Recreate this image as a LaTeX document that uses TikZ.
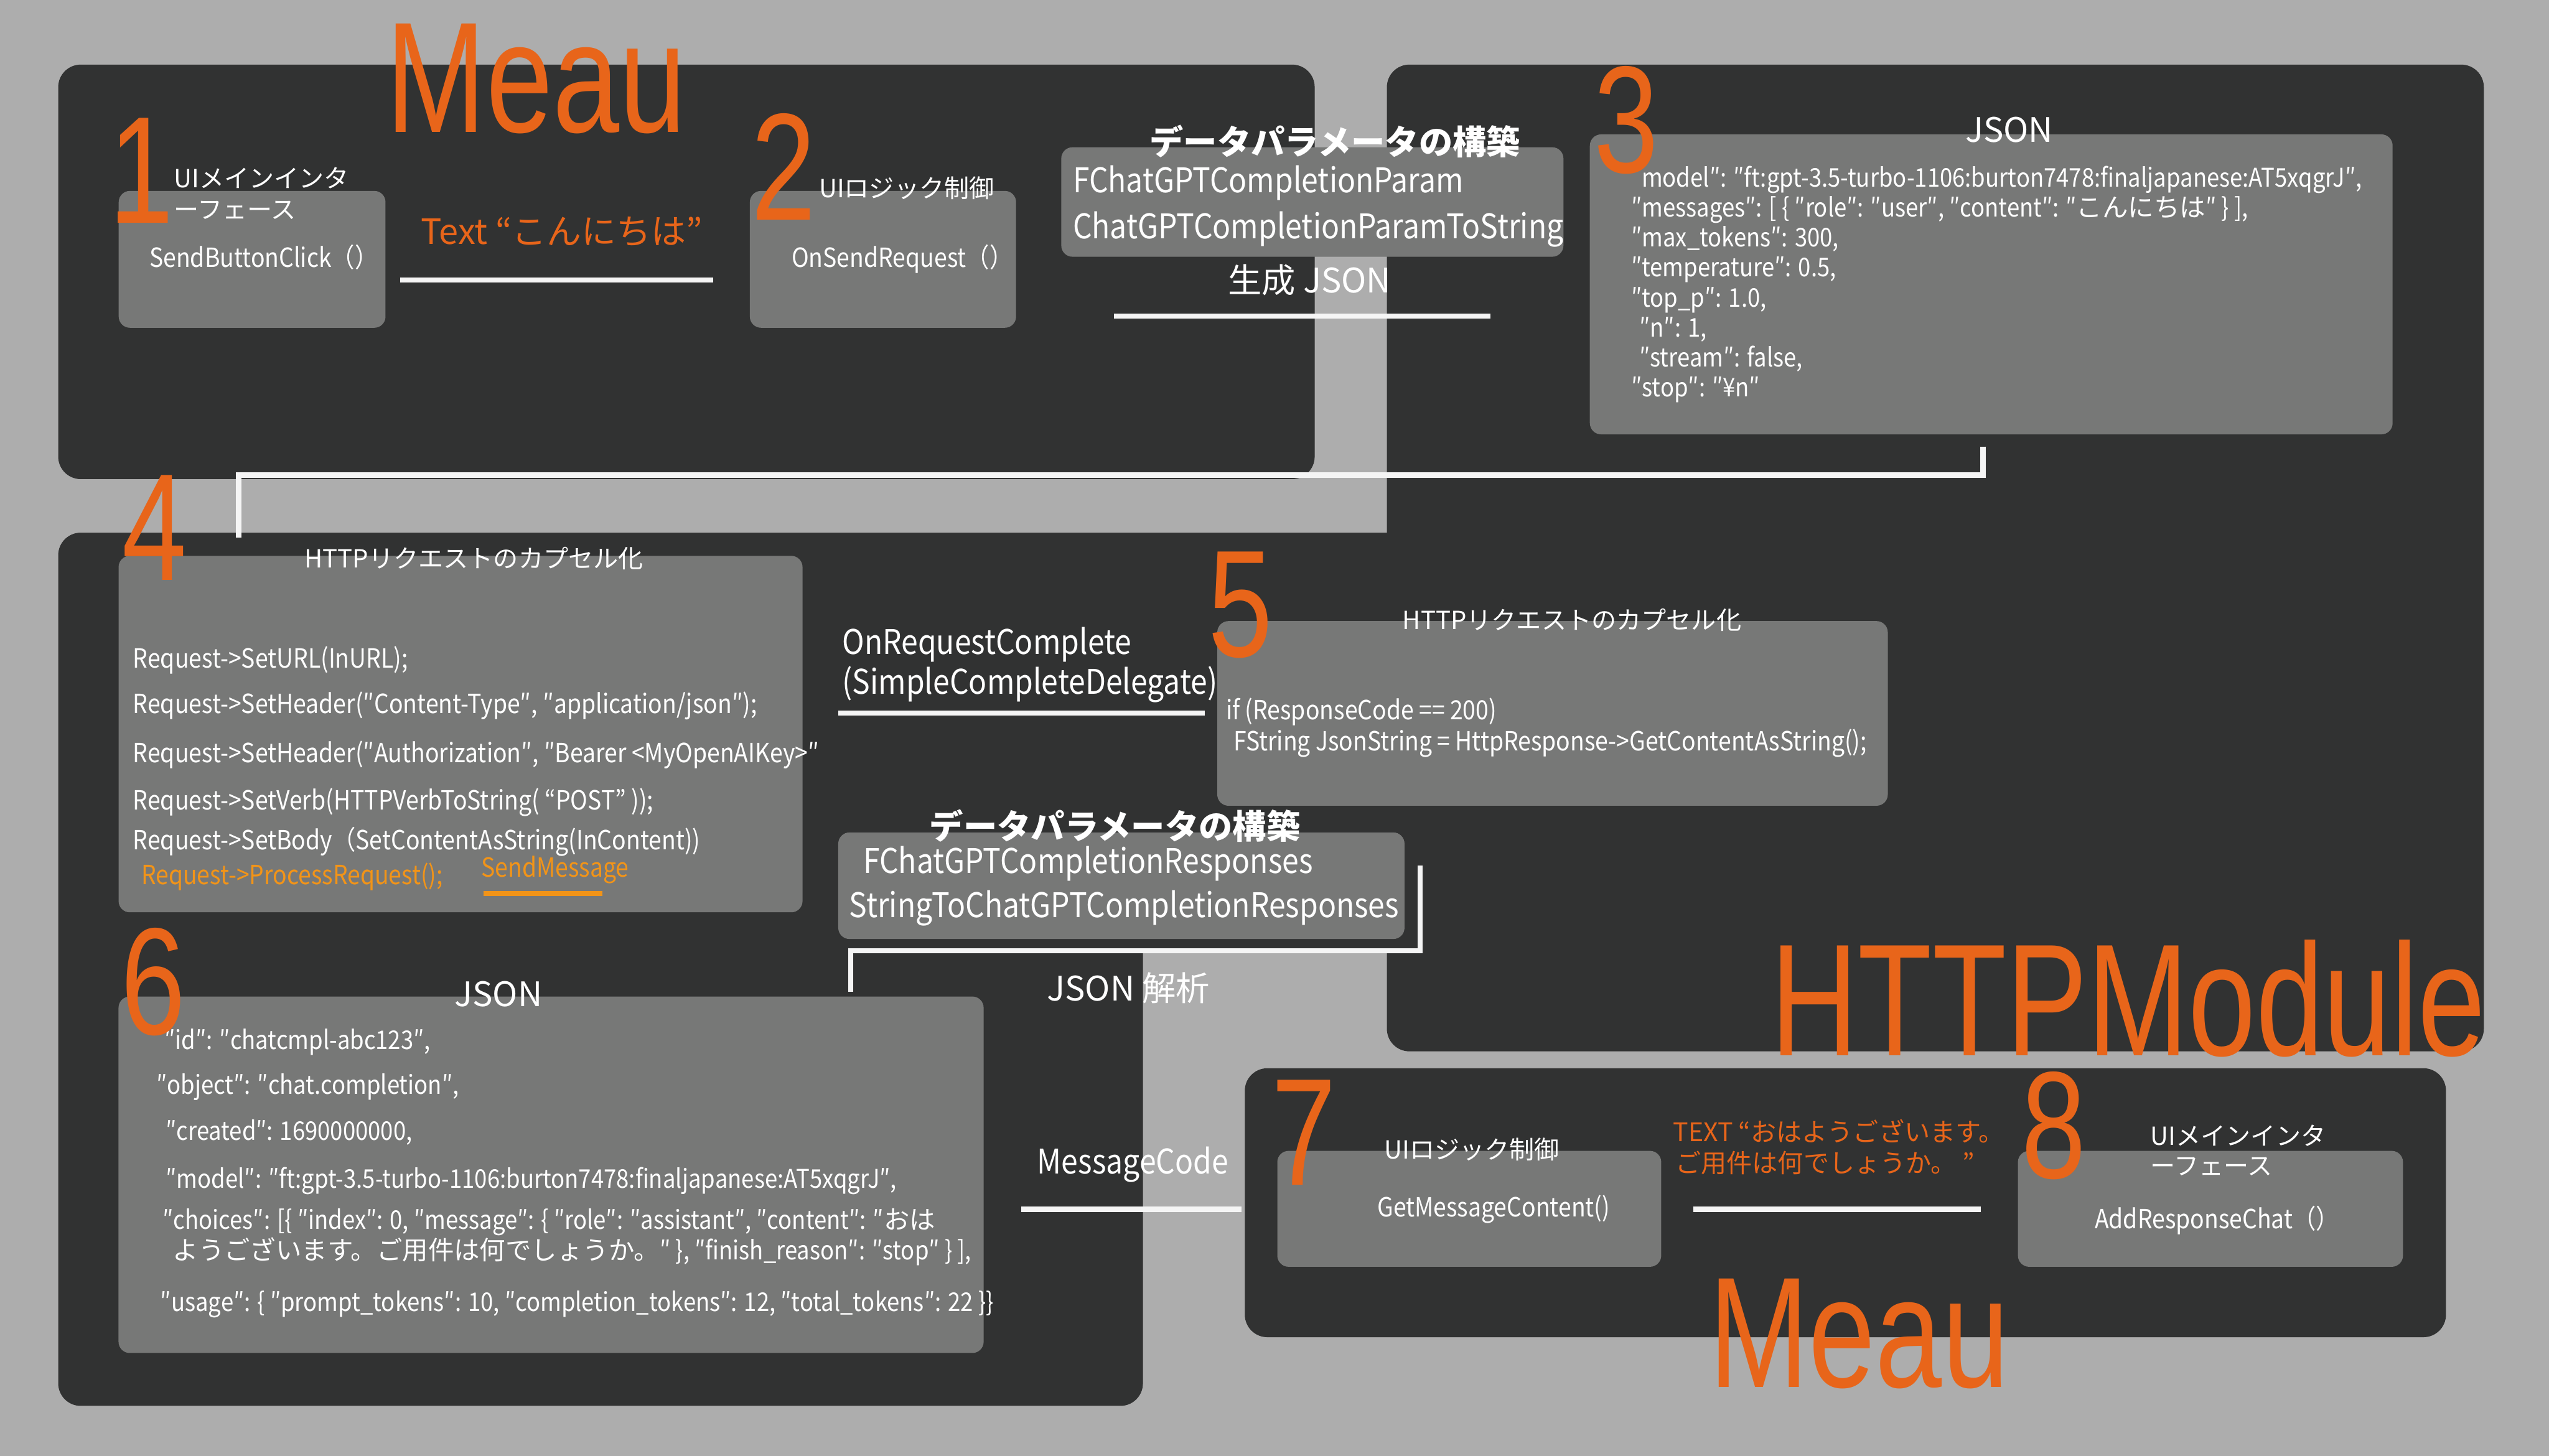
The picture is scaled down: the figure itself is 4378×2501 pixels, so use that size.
\documentclass[tikz,border=0pt]{standalone}
\usepackage{fontspec}
\setmainfont{Noto Sans CJK JP}[FakeStretch=0.88]
\newfontfamily\jpfont{Noto Sans CJK JP}
\newfontfamily\numfont{Liberation Sans}[FakeStretch=0.76]
\newcommand{\jp}[1]{{\jpfont #1}}
\usetikzlibrary{positioning}
\definecolor{bggray}{HTML}{ADADAD}
\definecolor{paneldark}{HTML}{313232}
\definecolor{boxgray}{HTML}{777877}
\definecolor{meauorange}{HTML}{E8651A}
\definecolor{amber}{HTML}{F29418}
\definecolor{linewhite}{HTML}{F5F5F5}

\begin{document}
\begin{tikzpicture}[x=0.01cm, y=-0.01cm,
    panel/.style={fill=paneldark, rounded corners=11pt},
    box/.style={rectangle, rounded corners=5.5pt, fill=boxgray, inner sep=0pt},
    link/.style={draw=linewhite, line width=2.6pt},
    num/.style={text=meauorange, font=\numfont\fontsize{74.5pt}{75pt}\selectfont, anchor=base, inner sep=0pt},
    mod/.style={text=meauorange, font=\numfont\fontsize{77pt}{78pt}\selectfont, anchor=base, inner sep=0pt},
    lbl/.style={text=white, font=\jpfont\fontsize{12.2pt}{14pt}\selectfont, anchor=base west, inner sep=0pt},
    say/.style={text=meauorange, font=\jpfont\fontsize{12.5pt}{14pt}\selectfont, anchor=base west, inner sep=0pt},
    code/.style={text=white, font=\fontsize{12.9pt}{14pt}\selectfont, anchor=base west, inner sep=0pt},
    json/.style={text=white, font=\fontsize{12.6pt}{14pt}\selectfont, anchor=base west, inner sep=0pt},
    head/.style={text=white, font=\fontsize{16.6pt}{18pt}\selectfont, anchor=base west, inner sep=0pt},
    jhead/.style={text=white, font=\jpfont\fontsize{16.5pt}{18pt}\selectfont, anchor=base, inner sep=0pt},
    ttl/.style={text=white, font=\jpfont\bfseries\fontsize{16.5pt}{18pt}\selectfont, anchor=base, inner sep=0pt}
  ]
    \useasboundingbox (0,0) rectangle (4378,2501);
    \fill[bggray] (0,0) rectangle (4378,2501);

    % panels
    \fill[panel] (100,111) rectangle (2258,823);
    \fill[panel] (2382,111) rectangle (4266,1806);
    \fill[panel] (100,915) rectangle (1963,2415);
    \fill[paneldark] (1900,915) rectangle (2420,1636);
    \fill[panel] (2138,1835) rectangle (4201,2297);

    % boxes
    \node[box, minimum width=4.58cm, minimum height=2.35cm]  (box1) at (433,445.5) {};
    \node[box, minimum width=4.57cm, minimum height=2.35cm]  (box2) at (1516.5,445.5) {};
    \node[box, minimum width=8.62cm, minimum height=1.88cm]  (param) at (2254,347) {};
    \node[box, minimum width=13.78cm, minimum height=5.15cm] (box3) at (3420,488.5) {};
    \node[box, minimum width=11.74cm, minimum height=6.12cm] (box4) at (791,1261) {};
    \node[box, minimum width=11.51cm, minimum height=3.17cm] (box5) at (2666.5,1225.5) {};
    \node[box, minimum width=9.72cm, minimum height=1.83cm]  (resp) at (1926,1521.5) {};
    \node[box, minimum width=14.85cm, minimum height=6.12cm] (box6) at (946.5,2018) {};
    \node[box, minimum width=6.59cm, minimum height=1.99cm]  (box7) at (2523.5,2076.5) {};
    \node[box, minimum width=6.61cm, minimum height=1.99cm]  (box8) at (3796.5,2076.5) {};

    % connector ends
    \coordinate (l1a) at (687,481);   \coordinate (l1b) at (1225,481);
    \coordinate (l2a) at (1913,543);  \coordinate (l2b) at (2560,543);
    \coordinate (l3a) at (3406,767);  \coordinate (l3b) at (410,923);
    \coordinate (l4a) at (1440,1225); \coordinate (l4b) at (2069,1225);
    \coordinate (l5a) at (2439,1487); \coordinate (l5b) at (1461,1704);
    \coordinate (l6a) at (1754,2077); \coordinate (l6b) at (2132,2077);
    \coordinate (l7a) at (2908,2077); \coordinate (l7b) at (3402,2077);

    \draw[link] (l1a) -- (l1b);
    \draw[link] (l2a) -- (l2b);
    \draw[link] (l3a) -- (3406,816) -- (410,816) -- (l3b);
    \draw[link] (l4a) -- (l4b);
    \draw[link] (l5a) -- (2439,1633) -- (1461,1633) -- (l5b);
    \draw[link] (l6a) -- (l6b);
    \draw[link] (l7a) -- (l7b);

    % 1, 2
    \node[lbl] (t1a) at (298,322) {UIメインインタ};
    \node[lbl] (t1b) at (298,376) {ーフェース};
    \node[code] (f1) at (256,459) {SendButtonClick（）};
    \node[say, font=\jpfont\fontsize{17pt}{19pt}\selectfont] (say1) at (722,420) {Text “こんにちは”};
    \node[lbl] (t2) at (1406,339) {UIロジック制御};
    \node[code] (f2) at (1359,459) {OnSendRequest（）};

    % param
    \node[ttl] (build1) at (2293,266) {データパラメータの構築};
    \node[head] (p1) at (1842,331) {FChatGPTCompletionParam};
    \node[head] (p2) at (1842,410) {ChatGPTCompletionParamToString};
    \node[jhead] (gen) at (2249,503) {生成 JSON};

    % 3
    \node[jhead] (js3) at (3451,244) {JSON};
    \node[json] (j1) at (2819,321)   {model″: ″ft:gpt-3.5-turbo-1106:burton7478:finaljapanese:AT5xqgrJ″,};
    \node[json] (j2) at (2801,372.5) {″messages″: [ \{ ″role″: ″user″, ″content″: ″\jp{こんにちは}″ \} ],};
    \node[json] (j3) at (2801,424)   {″max\_tokens″: 300,};
    \node[json] (j4) at (2801,475.5) {″temperature″: 0.5,};
    \node[json] (j5) at (2801,527)   {″top\_p″: 1.0,};
    \node[json] (j6) at (2815,578.5) {″n″: 1,};
    \node[json] (j7) at (2815,630)   {″stream″: false,};
    \node[json] (j8) at (2801,681.5) {″stop″: ″¥n″};

    % 4
    \node[lbl, anchor=base] (cap4) at (814,975) {HTTPリクエストのカプセル化};
    \node[code] (r1) at (228,1147) {Request->SetURL(InURL);};
    \node[code] (r2) at (228,1225) {Request->SetHeader(″Content-Type″, ″application/json″);};
    \node[code] (r3) at (228,1310) {Request->SetHeader(″Authorization″, ″Bearer <MyOpenAIKey>″};
    \node[code] (r4) at (228,1391) {Request->SetVerb(HTTPVerbToString( “POST” ));};
    \node[code] (r5) at (228,1460) {Request->SetBody（SetContentAsString(InContent))};
    \node[code, text=amber] (r6) at (242,1519) {Request->ProcessRequest();};
    \node[code, text=amber] (send) at (826,1507) {SendMessage};
    \draw[amber, line width=2.3pt] (send.south west) ++(5,16) -- ++(204,0);

    % 5
    \node[head] (oc1) at (1446,1124) {OnRequestComplete};
    \node[head] (oc2) at (1446,1192) {(SimpleCompleteDelegate)};
    \node[lbl, anchor=base] (cap5) at (2700,1081) {HTTPリクエストのカプセル化};
    \node[code] (c1) at (2105,1236) {if (ResponseCode == 200)};
    \node[code] (c2) at (2118,1290) {FString JsonString = HttpResponse->GetContentAsString();};

    % responses
    \node[ttl] (build2) at (1915,1441) {データパラメータの構築};
    \node[head] (s1) at (1482,1500) {FChatGPTCompletionResponses};
    \node[head] (s2) at (1458,1576) {StringToChatGPTCompletionResponses};
    \node[jhead] (parse) at (1938,1719) {JSON 解析};

    % 6
    \node[jhead] (js6) at (856,1729) {JSON};
    \node[json] (k1) at (282,1803) {″id″: ″chatcmpl-abc123″,};
    \node[json] (k2) at (268,1880) {″object″: ″chat.completion″,};
    \node[json] (k3) at (284,1959) {″created″: 1690000000,};
    \node[json] (k4) at (284,2041) {″model″: ″ft:gpt-3.5-turbo-1106:burton7478:finaljapanese:AT5xqgrJ″,};
    \node[json] (k5) at (279,2112) {″choices″: [\{ ″index″: 0, ″message″: \{ ″role″: ″assistant″, ″content″: ″\jp{おは}};
    \node[json] (k6) at (296,2164) {\jp{ようございます。ご用件は何でしょうか。}″ \}, ″finish\_reason″: ″stop″ \} ],};
    \node[json] (k7) at (275,2253) {″usage″: \{ ″prompt\_tokens″: 10, ″completion\_tokens″: 12, ″total\_tokens″: 22 \}\}};

    % 7, 8
    \node[head] (msg) at (1781,2016) {MessageCode};
    \node[lbl] (t7) at (2377,1991) {UIロジック制御};
    \node[code] (f7) at (2365,2090) {GetMessageContent()};
    \node[say] (say2a) at (2873,1961) {TEXT “おはようございます。};
    \node[say] (say2b) at (2877,2014) {ご用件は何でしょうか。 ”};
    \node[lbl] (t8a) at (3693,1967) {UIメインインタ};
    \node[lbl] (t8b) at (3693,2018) {ーフェース};
    \node[code] (f8) at (3597,2110) {AddResponseChat（）};

    % step numbers and titles
    \node[num] (n1) at (243,383) {1};
    \node[num] (n2) at (1346,378) {2};
    \node[num] (n3) at (2793,297) {3};
    \node[num] (n4) at (265,997) {4};
    \node[num] (n5) at (2131,1128) {5};
    \node[num] (n6) at (263,1777) {6};
    \node[num] (n7) at (2240,2036) {7};
    \node[num] (n8) at (3528,2024) {8};
    \node[mod] (meau1) at (921,227) {Meau};
    \node[mod] (meau2) at (3193,2383) {Meau};
    \node[mod, font=\numfont\fontsize{78pt}{79pt}\selectfont] (httpmod) at (3655,1813) {HTTPModule};
\end{tikzpicture}
\end{document}
